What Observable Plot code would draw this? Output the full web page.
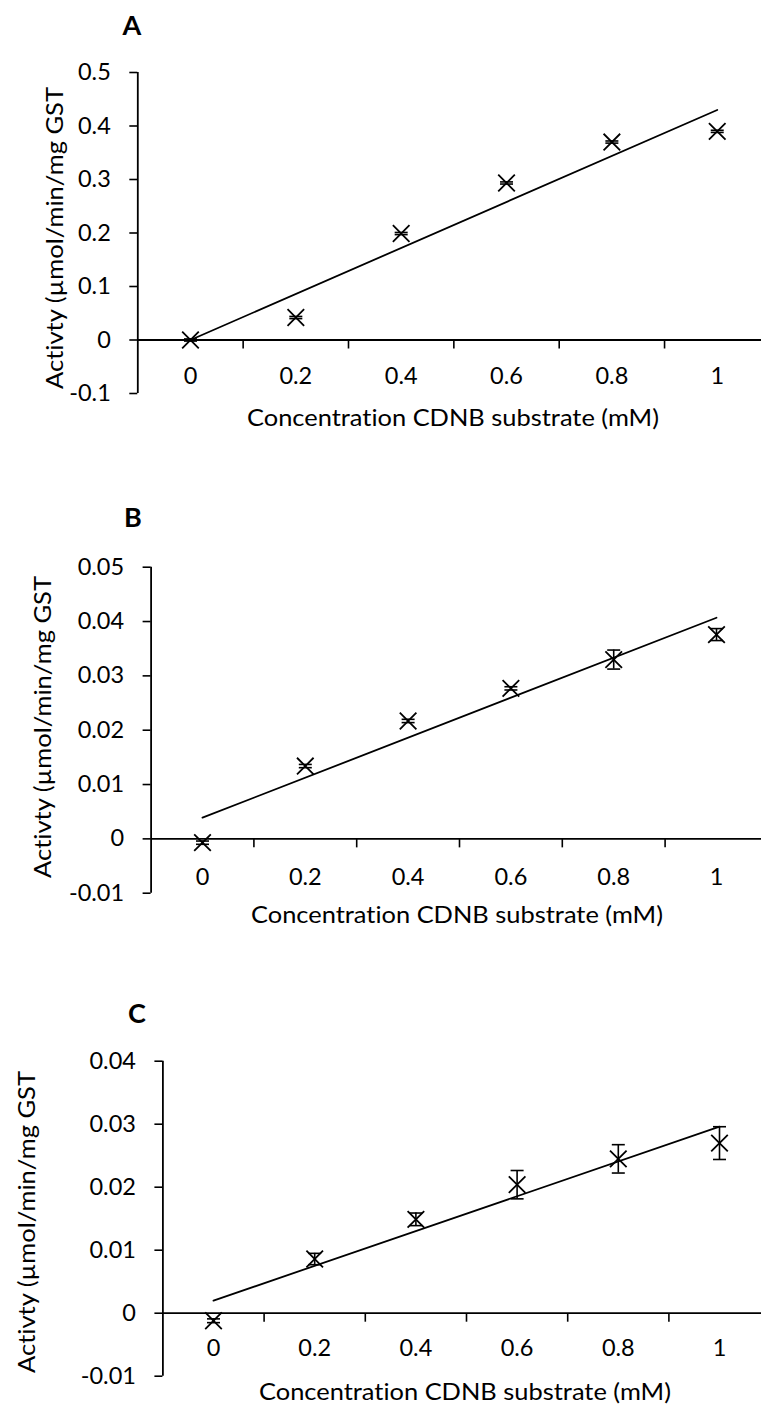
<!DOCTYPE html>
<html>
<head>
<meta charset="utf-8">
<script src="https://cdn.jsdelivr.net/npm/d3@7"></script>
<script src="https://cdn.jsdelivr.net/npm/@observablehq/plot@0.6"></script>
<style>
  html, body { margin: 0; padding: 0; background: #fff; }
  body { width: 761px; height: 1412px; overflow: hidden; position: relative; font-family: Lato, "Liberation Sans", Arial, sans-serif; }
  .panel { position: absolute; left: 0; }
  .panel svg { overflow: hidden; }
  .panel svg text { font-variant-ligatures: none; font-feature-settings: "liga" 0, "clig" 0; }
</style>
</head>
<body>
<div id="root"></div>
<script>
// ---------- data ----------
const concentration = [0, 0.2, 0.4, 0.6, 0.8, 1];          // category labels (mM)
const categoryBounds = [0.1, 0.3, 0.5, 0.7, 0.9];           // category-axis tick marks
const fitX = [0, 1];

const activityA = [0, 0.042, 0.199, 0.2935, 0.370, 0.390];
const errorA    = [0.002, 0.002, 0.002, 0.002, 0.002, 0.002];
const fitA      = [0, 0.430];
const yTicksA   = [-0.1, 0, 0.1, 0.2, 0.3, 0.4, 0.5];

const activityB = [-0.0007, 0.0134, 0.0217, 0.0277, 0.0330, 0.0376];
const errorB    = [0.0003, 0.0003, 0.0003, 0.0003, 0.00175, 0.0011];
const fitB      = [0.0039, 0.0407];
const yTicksB   = [-0.01, 0, 0.01, 0.02, 0.03, 0.04, 0.05];

const activityC = [-0.0012, 0.0086, 0.0149, 0.0204, 0.0245, 0.0270];
const errorC    = [0.0003, 0.0009, 0.001, 0.00225, 0.00225, 0.0026];
const fitC      = [0.0020, 0.0296];
const yTicksC   = [-0.01, 0, 0.01, 0.02, 0.03, 0.04];

const panelLetters = ["A", "B", "C"];
const xTitle = "Concentration CDNB substrate (mM)";
const yTitle = "Activty (µmol/min/mg GST";

// ---------- layout ----------
const panels = [
  {letter: panelLetters[0], values: activityA, errors: errorA, fit: fitA, ticks: yTicksA,
   top: 0, height: 460, xRange: [137.3, 769.4], yRange: [393, 72],
   letterPos: [132, 25], xLabelDy: 36, titlePos: [453, 426], yTitlePos: [63, 238]},
  {letter: panelLetters[1], values: activityB, errors: errorB, fit: fitB, ticks: yTicksB,
   top: 460, height: 500, xRange: [150.6, 767.4], yRange: [432.7, 106.7],
   letterPos: [133, 57], xLabelDy: 38.5, titlePos: [457, 463], yTitlePos: [51, 267]},
  {letter: panelLetters[2], values: activityC, errors: errorC, fit: fitC, ticks: yTicksC,
   top: 960, height: 452, xRange: [162.4, 769.6], yRange: [415.7, 100.7],
   letterPos: [137, 53], xLabelDy: 35.5, titlePos: [465, 440], yTitlePos: [35, 262]}
];

const FONT = 'Lato, "Liberation Sans", Arial, sans-serif';

// custom symbols
const xMark = {draw(ctx, size) { const r = Math.sqrt(size / Math.PI); ctx.moveTo(-r, -r); ctx.lineTo(r, r); ctx.moveTo(-r, r); ctx.lineTo(r, -r); }};
const capMark = {draw(ctx, size) { const r = Math.sqrt(size / Math.PI); ctx.moveTo(-r, 0); ctx.lineTo(r, 0); }};
const tickDown = {draw(ctx, size) { const r = Math.sqrt(size / Math.PI); ctx.moveTo(0, 0); ctx.lineTo(0, r); }};

const fmt = d => String(+(+d).toFixed(2));
const root = document.getElementById("root");

for (const p of panels) {
  const pts = concentration.map((c, i) => ({c, v: p.values[i], e: p.errors[i]}));
  const fitLine = fitX.map((c, i) => ({c, v: p.fit[i]}));
  const yMin = p.ticks[0], yMax = p.ticks[p.ticks.length - 1];

  const chart = Plot.plot({
    width: 761,
    height: p.height,
    marginLeft: p.xRange[0],
    marginRight: 0,
    marginTop: 0,
    marginBottom: 0,
    style: {fontFamily: FONT, fontSize: "24px", color: "black", background: "white"},
    x: {domain: [-0.1, 1.1], range: p.xRange, axis: null},
    y: {domain: [yMin, yMax], range: p.yRange, label: null},
    marks: [
      Plot.axisY(p.ticks, {tickSize: 8, tickPadding: 19, tickFormat: fmt, strokeWidth: 1.6, fontSize: 23.5, label: null}),
      Plot.ruleX([-0.1], {y1: yMin, y2: yMax, stroke: "black", strokeWidth: 1.8}),
      Plot.ruleY([0], {x1: -0.1, x2: 1.1, stroke: "black", strokeWidth: 1.8}),
      Plot.dot(categoryBounds, {x: d => d, y: () => 0, symbol: tickDown, r: 8.5, stroke: "black", fill: "none", strokeWidth: 1.6}),
      Plot.text(concentration, {x: d => d, y: () => 0, dy: p.xLabelDy, text: d => String(d), fontSize: 23.5, fill: "black"}),
      Plot.line(fitLine, {x: "c", y: "v", stroke: "black", strokeWidth: 1.8}),
      Plot.ruleX(pts, {x: "c", y1: d => d.v - d.e, y2: d => d.v + d.e, stroke: "black", strokeWidth: 1.6}),
      Plot.dot(pts, {x: "c", y: d => d.v - d.e, symbol: capMark, r: 6.5, stroke: "black", fill: "none", strokeWidth: 1.6}),
      Plot.dot(pts, {x: "c", y: d => d.v + d.e, symbol: capMark, r: 6.5, stroke: "black", fill: "none", strokeWidth: 1.6}),
      Plot.dot(pts, {x: "c", y: "v", symbol: xMark, r: 8.3, stroke: "black", fill: "none", strokeWidth: 1.8})
    ]
  });

  const svg = d3.select(chart);
  svg.append("text")
    .attr("x", p.letterPos[0]).attr("y", p.letterPos[1])
    .attr("text-anchor", "middle").attr("dy", "0.36em")
    .attr("font-family", FONT)
    .attr("font-weight", "bold").attr("font-size", 27).attr("fill", "black")
    .text(p.letter);
  svg.append("text")
    .attr("x", p.titlePos[0]).attr("y", p.titlePos[1])
    .attr("text-anchor", "middle").attr("font-size", 23).attr("fill", "black")
    .attr("font-family", FONT)
    .attr("textLength", 412).attr("lengthAdjust", "spacingAndGlyphs")
    .text(xTitle);
  svg.append("text")
    .attr("transform", `translate(${p.yTitlePos[0]},${p.yTitlePos[1]}) rotate(-90)`)
    .attr("text-anchor", "middle").attr("font-size", 23).attr("fill", "black")
    .attr("font-family", FONT)
    .attr("textLength", 302).attr("lengthAdjust", "spacingAndGlyphs")
    .text(yTitle);

  const wrap = document.createElement("div");
  wrap.className = "panel";
  wrap.style.top = p.top + "px";
  wrap.appendChild(chart);
  root.appendChild(wrap);
}
</script>
</body>
</html>
